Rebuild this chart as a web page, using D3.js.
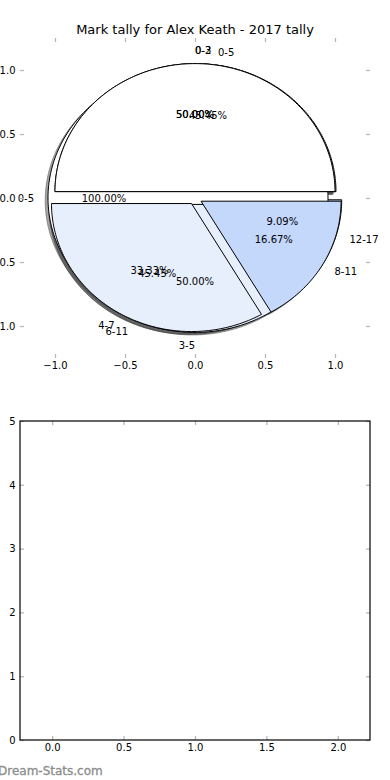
<!DOCTYPE html>
<html>
<head>
<meta charset="utf-8">
<script src="https://cdn.jsdelivr.net/npm/d3@7"></script>
<style>
  body { margin: 0; background: #fff; }
  text { font-family: "DejaVu Sans", sans-serif; }
</style>
</head>
<body>
<svg id="chart" width="390" height="780"></svg>
<script>
// Four tallies got drawn onto the same pie axes, in this order.
const pie1Labels = ['0-5', '6-11', '12-17'];
const pie1Values = [5, 5, 1];
const pie2Labels = ['0-5'];
const pie2Values = [1];
const pie3Labels = ['0-2', '3-5'];
const pie3Values = [1, 1];
const pie4Labels = ['0-3', '4-7', '8-11'];
const pie4Values = [3, 2, 1];

const pieTicks = [-1.0, -0.5, 0.0, 0.5, 1.0];
const barXTicks = [0.0, 0.5, 1.0, 1.5, 2.0];
const barYTicks = [0, 1, 2, 3, 4, 5];

const chartTitle = 'Mark tally for Alex Keath - 2017 tally';
const watermark = 'Dream-Stats.com';

const wedgeColors = ['#ffffff', '#e8effc', '#c4d8fc'];
const EXPLODE = 0.05;
const LABEL_DIST = 1.1;
const PCT_DIST = 0.6;
const SHADOW_OFFSET = -0.02;

const svg = d3.select('#chart');

/***********************************************************************************************
 * Top axes: the pies
 **********************************************************************************************/

const x = d3.scaleLinear().domain([-1.25, 1.25]).range([20, 370]);
const y = d3.scaleLinear().domain([-1.25, 1.25]).range([358, 38]);

const pieLayout = d3.pie().sort(null).value((d) => d.value);
const line = d3.line().x((p) => x(p[0])).y((p) => y(p[1]));

// matplotlib-style wedges: angles run counter-clockwise from 3 o'clock in data space.
function buildPie(labels, values) {
  const arcs = pieLayout(values.map((v, i) => ({ label: labels[i], value: v })));
  const total = d3.sum(values);
  return arcs.map((a, i) => {
    const thetam = 0.5 * (a.startAngle + a.endAngle);
    const cx = EXPLODE * Math.cos(thetam);
    const cy = EXPLODE * Math.sin(thetam);
    return {
      label: a.data.label,
      pct: d3.format('.2f')(a.data.value / total * 100) + '%',
      start: a.startAngle,
      end: a.endAngle,
      thetam, cx, cy,
      color: wedgeColors[i % wedgeColors.length],
    };
  });
}

function wedgePoints(w, off) {
  const pts = [];
  const span = w.end - w.start;
  const full = span >= 2 * Math.PI - 1e-9;
  if (!full) pts.push([w.cx + off, w.cy + off]);
  const n = Math.max(4, Math.ceil(span / (Math.PI / 180)));
  for (let k = 0; k <= n; k++) {
    const a = w.start + span * k / n;
    pts.push([w.cx + off + Math.cos(a), w.cy + off + Math.sin(a)]);
  }
  return pts;
}

const pies = [
  buildPie(pie1Labels, pie1Values),
  buildPie(pie2Labels, pie2Values),
  buildPie(pie3Labels, pie3Values),
  buildPie(pie4Labels, pie4Values),
];
const allWedges = pies.flat();

const pieG = svg.append('g').attr('class', 'pie-axes');

// Shadows sit beneath every wedge.
pieG.append('g').attr('class', 'shadows')
  .selectAll('path')
  .data(allWedges)
  .join('path')
    .attr('d', (d) => line(wedgePoints(d, SHADOW_OFFSET)) + 'Z')
    .attr('fill', 'rgba(77,77,77,0.5)')
    .attr('stroke', 'rgba(77,77,77,0.5)')
    .attr('stroke-width', 1);

pieG.append('g').attr('class', 'wedges')
  .selectAll('path')
  .data(allWedges)
  .join('path')
    .attr('d', (d) => line(wedgePoints(d, 0)) + 'Z')
    .attr('fill', (d) => d.color)
    .attr('stroke', '#000')
    .attr('stroke-width', 1)
    .attr('stroke-linejoin', 'miter');

const textG = pieG.append('g').attr('class', 'pie-text')
  .attr('font-size', 10).attr('fill', '#000');

allWedges.forEach((w) => {
  const lx = w.cx + LABEL_DIST * Math.cos(w.thetam);
  const ly = w.cy + LABEL_DIST * Math.sin(w.thetam);
  textG.append('text')
    .attr('x', x(lx)).attr('y', y(ly))
    .attr('text-anchor', lx > 0 ? 'start' : 'end')
    .attr('dominant-baseline', 'central')
    .text(w.label);

  const px = w.cx + PCT_DIST * Math.cos(w.thetam);
  const py = w.cy + PCT_DIST * Math.sin(w.thetam);
  textG.append('text')
    .attr('x', x(px)).attr('y', y(py))
    .attr('text-anchor', 'middle')
    .attr('dominant-baseline', 'central')
    .text(w.pct);
});

// Inward grey ticks on all four sides, labels on left and bottom only.
function styleAxis(g) {
  g.select('.domain').remove();
  g.selectAll('.tick line').attr('stroke', '#b8b8b8').attr('stroke-width', 1.3);
  g.selectAll('.tick text').attr('font-size', 10).attr('fill', '#000')
    .attr('font-family', '"DejaVu Sans", sans-serif');
}

function drawAxes(sx, sy, xTicks, yTicks, xFmt, yFmt, box) {
  const g = svg.append('g');
  g.append('g').attr('transform', `translate(0,${box.bottom})`)
    .call(d3.axisBottom(sx).tickValues(xTicks).tickFormat(xFmt).tickSize(-4).tickSizeOuter(0).tickPadding(3.5))
    .call(styleAxis);
  g.append('g').attr('transform', `translate(0,${box.top})`)
    .call(d3.axisTop(sx).tickValues(xTicks).tickFormat('').tickSize(-4).tickSizeOuter(0))
    .call(styleAxis);
  g.append('g').attr('transform', `translate(${box.left},0)`)
    .call(d3.axisLeft(sy).tickValues(yTicks).tickFormat(yFmt).tickSize(-4).tickSizeOuter(0).tickPadding(4.5))
    .call(styleAxis);
  g.append('g').attr('transform', `translate(${box.right},0)`)
    .call(d3.axisRight(sy).tickValues(yTicks).tickFormat('').tickSize(-4).tickSizeOuter(0))
    .call(styleAxis);
  return g;
}

drawAxes(x, y, pieTicks, pieTicks, d3.format('.1f'), d3.format('.1f'),
  { left: 20, right: 370, top: 38, bottom: 358 });

svg.append('text')
  .attr('x', 195).attr('y', 33.5)
  .attr('text-anchor', 'middle')
  .attr('font-size', 13)
  .text(chartTitle);

/***********************************************************************************************
 * Bottom axes: empty
 **********************************************************************************************/

const x2 = d3.scaleLinear().domain([-0.225, 2.225]).range([20, 370]);
const y2 = d3.scaleLinear().domain([0, 5]).range([740, 421]);

drawAxes(x2, y2, barXTicks, barYTicks, d3.format('.1f'), d3.format('d'),
  { left: 20, right: 370, top: 421, bottom: 740 });

svg.append('rect')
  .attr('x', 20).attr('y', 421)
  .attr('width', 350).attr('height', 319)
  .attr('fill', 'none')
  .attr('stroke', '#000')
  .attr('stroke-width', 1.2);

svg.append('text')
  .attr('x', -2).attr('y', 775)
  .attr('font-size', 12)
  .attr('fill', '#8c8c8c')
  .attr('stroke', '#8c8c8c')
  .attr('stroke-width', 0.3)
  .text(watermark);
</script>
</body>
</html>
